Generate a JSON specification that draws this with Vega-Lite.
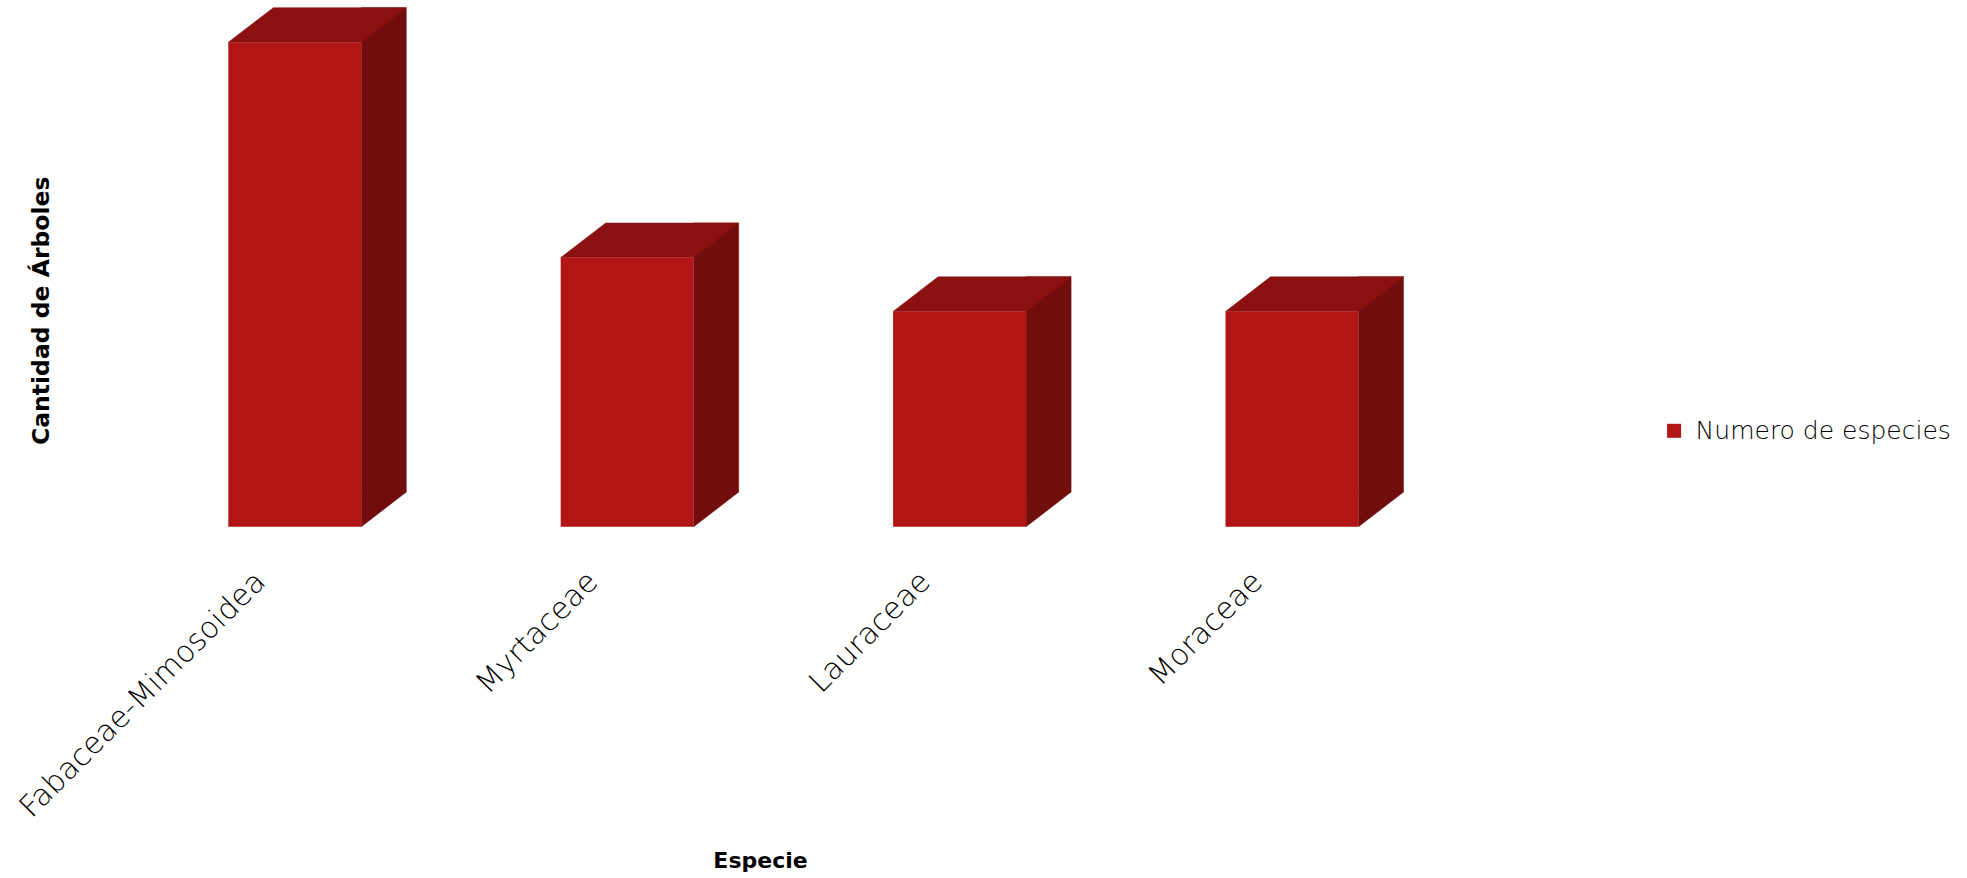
{
  "$schema": "https://vega.github.io/schema/vega-lite/v6.json",
  "autosize": {"type": "none"},
  "padding": {"left": 128.6, "top": 42.3, "right": 508.8, "bottom": 351.3},
  "width": 1329.6,
  "height": 484.4,
  "background": "white",
  "config": {"view": {"stroke": null}, "font": "DejaVu Sans"},
  "data": {
    "values": [
      {"especie": "Fabaceae-Mimosoidea", "cantidad": 9, "serie": "Numero de especies"},
      {"especie": "Myrtaceae", "cantidad": 5, "serie": "Numero de especies"},
      {"especie": "Lauraceae", "cantidad": 4, "serie": "Numero de especies"},
      {"especie": "Moraceae", "cantidad": 4, "serie": "Numero de especies"}
    ]
  },
  "encoding": {
    "x": {
      "field": "especie",
      "type": "nominal",
      "sort": null,
      "scale": {"paddingInner": 0, "paddingOuter": 0},
      "axis": {
        "labelAngle": -45,
        "labelAlign": "right",
        "labelBaseline": "middle",
        "labelFontSize": 30,
        "labelFontWeight": 200,
        "labelLimit": 0,
        "labelColor": "#000000",
        "labelPadding": 50,
        "labelOffset": -34,
        "ticks": false,
        "domain": false,
        "grid": false,
        "title": "Especie",
        "titleFontSize": 22,
        "titleFontWeight": "bold",
        "titleColor": "#000000",
        "titleX": 631.4,
        "titleY": 333.5,
        "titleAlign": "center",
        "titleBaseline": "middle"
      }
    }
  },
  "layer": [
    {
      "mark": {"type": "bar", "color": "#710D0D", "width": 45, "xOffset": 89, "yOffset": -34.6, "y2Offset": -34.6, "stroke": "#710D0D", "strokeWidth": 0.5},
      "encoding": {
        "y": {
          "field": "cantidad",
          "type": "quantitative",
          "scale": {"domain": [0, 9], "nice": false},
          "axis": {
            "labels": false,
            "ticks": false,
            "domain": false,
            "grid": false,
            "title": "Cantidad de Árboles",
            "titleFontSize": 23.5,
            "titleFontWeight": "bold",
            "titleColor": "#000000",
            "titleX": -87.6,
            "titleY": 268,
            "titleAngle": -90,
            "titleAlign": "center",
            "titleBaseline": "middle"
          }
        }
      }
    },
    {
      "mark": {"type": "point", "shape": "M 66.5 -34.6 L 111.5 -34.6 L 66.5 0 Z", "size": 4, "filled": true, "color": "#710D0D", "opacity": 1, "stroke": "#710D0D", "strokeWidth": 0.5},
      "encoding": {"y": {"datum": 0}}
    },
    {
      "mark": {"type": "point", "shape": "M -66.5 0 L 66.5 0 L 111.5 -34.6 L -21.5 -34.6 Z", "size": 4, "filled": true, "color": "#8A1110", "opacity": 1, "stroke": "#8A1110", "strokeWidth": 0.5},
      "encoding": {"y": {"field": "cantidad", "type": "quantitative"}}
    },
    {
      "mark": {"type": "bar", "width": 133},
      "encoding": {
        "y": {"field": "cantidad", "type": "quantitative"},
        "color": {
          "field": "serie",
          "type": "nominal",
          "scale": {"range": ["#B11515"]},
          "legend": {
            "orient": "none",
            "legendX": 1533,
            "legendY": 376,
            "title": null,
            "symbolType": "square",
            "symbolSize": 196,
            "symbolStrokeWidth": 0,
            "labelFontSize": 25,
            "labelFontWeight": 200,
            "labelLimit": 0,
            "labelColor": "#000000",
            "labelOffset": 9,
            "padding": 0
          }
        }
      }
    }
  ]
}
